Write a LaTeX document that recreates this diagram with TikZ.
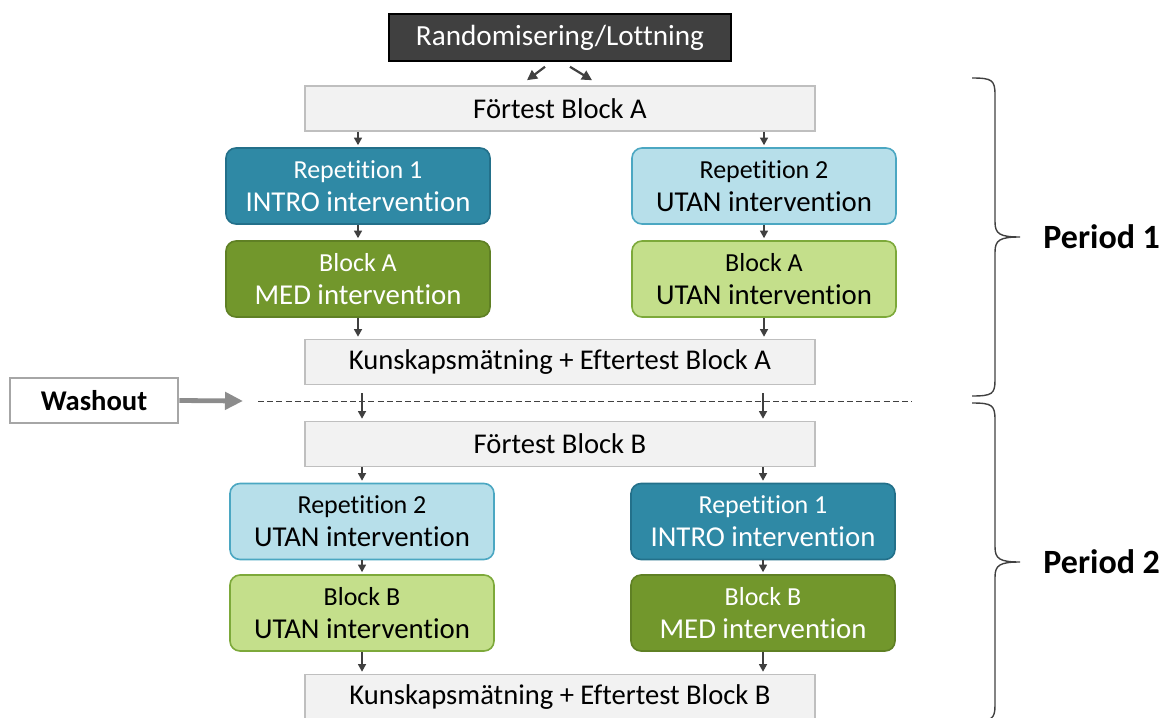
\documentclass[tikz,border=0pt]{standalone}
\usepackage{fontspec}
\setmainfont{Carlito}[Ligatures=NoCommon]
\usetikzlibrary{arrows.meta}

\definecolor{darkfill}{HTML}{404040}
\definecolor{greyfill}{HTML}{F2F2F2}
\definecolor{greyline}{HTML}{BFBFBF}
\definecolor{tealfill}{HTML}{2F89A5}
\definecolor{tealline}{HTML}{23708A}
\definecolor{skyfill}{HTML}{B7DFEA}
\definecolor{skyline}{HTML}{4BA7C2}
\definecolor{olivefill}{HTML}{72972C}
\definecolor{oliveline}{HTML}{5F8024}
\definecolor{limefill}{HTML}{C4DF8B}
\definecolor{limeline}{HTML}{7DA93A}
\definecolor{arrowgrey}{HTML}{404040}
\definecolor{washgrey}{HTML}{8C8C8C}
\definecolor{washline}{HTML}{A6A6A6}

\begin{document}
\begin{tikzpicture}[x=0.5pt,y=-0.5pt]
\tikzstyle{arrow}=[-{Triangle[length=3.8pt,width=4pt]}, line width=0.75pt, arrowgrey, shorten >=1pt]
\tikzstyle{splitarrow}=[-{Triangle[length=5pt,width=5pt]}, line width=1.1pt, arrowgrey]
\tikzstyle{washarrow}=[-{Triangle[length=9pt,width=8.5pt]}, line width=2.4pt, washgrey]
\tikzstyle{divider}=[arrowgrey, line width=0.5pt, dash pattern=on 3pt off 1.6pt]
\tikzstyle{periodbrace}=[arrowgrey, line width=0.7pt]
\tikzstyle{darkbox}=[draw=black, fill=darkfill, text=white, line width=0.8pt, minimum width=171pt, minimum height=23.5pt, inner sep=1pt, font=\fontsize{14.6}{16.5}\selectfont]
\tikzstyle{greybox}=[draw=greyline, fill=greyfill, line width=0.8pt, minimum width=255pt, minimum height=22.5pt, inner sep=1pt, font=\fontsize{14.3}{16.5}\selectfont]
\tikzstyle{colbox}=[rounded corners=5pt, line width=0.8pt, minimum width=132pt, minimum height=38pt, inner sep=1pt, align=center, font=\fontsize{14.4}{16.5}\selectfont]
\tikzstyle{tealbox}=[colbox, draw=tealline, fill=tealfill, text=white]
\tikzstyle{skybox}=[colbox, draw=skyline, fill=skyfill]
\tikzstyle{olivebox}=[colbox, draw=oliveline, fill=olivefill, text=white]
\tikzstyle{limebox}=[colbox, draw=limeline, fill=limefill]
\tikzstyle{washbox}=[draw=washline, fill=white, line width=1.3pt, minimum width=84pt, minimum height=22.5pt, inner sep=1pt, font=\bfseries\fontsize{14.3}{16.5}\selectfont]
\tikzstyle{periodlabel}=[anchor=west, inner sep=0pt, font=\bfseries\fontsize{17}{20}\selectfont]
\newcommand{\firstline}[1]{{\fontsize{13}{16.5}\selectfont #1}}

\useasboundingbox (0,0) rectangle (1165,717);

% period 1
\draw node[darkbox] (rand) at (560,37.5) {Randomisering/Lottning};
\draw node[greybox] (fA) at (560,108.5) {Förtest Block A};
\draw node[tealbox] (L1) at (358,186) {\firstline{Repetition 1}\\INTRO intervention};
\draw node[skybox] (R1) at (764,186) {\firstline{Repetition 2}\\UTAN intervention};
\draw node[olivebox] (L2) at (358,279) {\firstline{Block A}\\MED intervention};
\draw node[limebox] (R2) at (764,279) {\firstline{Block A}\\UTAN intervention};
\draw node[greybox] (kA) at (560,362) {Kunskapsmätning + Eftertest Block A};

% period 2
\draw node[greybox] (fB) at (560,444) {Förtest Block B};
\draw node[skybox] (L3) at (362,521.5) {\firstline{Repetition 2}\\UTAN intervention};
\draw node[tealbox] (R3) at (763,521.5) {\firstline{Repetition 1}\\INTRO intervention};
\draw node[limebox] (L4) at (362,613) {\firstline{Block B}\\UTAN intervention};
\draw node[olivebox] (R4) at (763,613) {\firstline{Block B}\\MED intervention};
\draw node[greybox] (kB) at (560,697) {Kunskapsmätning + Eftertest Block B};

\draw node[washbox] (wash) at (94,400.5) {Washout};
\coordinate (wend) at (243,401);
\coordinate (dl) at (258,401);
\coordinate (dr) at (912,401);

\draw[splitarrow] ([xshift=-7.5pt,yshift=-2.5pt]rand.south) -- ([xshift=-16.5pt,yshift=2.5pt]fA.north);
\draw[splitarrow] ([xshift=5pt,yshift=-2.5pt]rand.south) -- ([xshift=16pt,yshift=2.5pt]fA.north);

\draw[arrow] (fA.south -| L1.north) -- (L1.north);
\draw[arrow] (fA.south -| R1.north) -- (R1.north);
\draw[arrow] (L1) -- (L2);
\draw[arrow] (R1) -- (R2);
\draw[arrow] (L2.south) -- (kA.north -| L2.south);
\draw[arrow] (R2.south) -- (kA.north -| R2.south);

\draw[divider] (dl) -- (dr);
\draw[washarrow] (wash.east) -- (wend);
\draw[arrow, shorten <=4pt] (kA.south -| L3.north) -- (fB.north -| L3.north);
\draw[arrow, shorten <=4pt] (kA.south -| R3.north) -- (fB.north -| R3.north);

\draw[arrow] (fB.south -| L3.north) -- (L3.north);
\draw[arrow] (fB.south -| R3.north) -- (R3.north);
\draw[arrow] (L3) -- (L4);
\draw[arrow] (R3) -- (R4);
\draw[arrow] (L4.south) -- (kB.north -| L4.south);
\draw[arrow] (R4.south) -- (kB.north -| R4.south);

% braces
\draw[periodbrace] (972,78) .. controls (992,78) and (995,80) .. (995,95) -- (995,222)
  .. controls (995,234) and (1000,237) .. (1020,237)
  .. controls (1000,237) and (995,240) .. (995,252) -- (995,380)
  .. controls (995,394) and (992,396) .. (972,396);
\draw[periodbrace] (972,403) .. controls (992,403) and (995,405) .. (995,420) -- (995,547)
  .. controls (995,559) and (1000,562) .. (1020,562)
  .. controls (1000,562) and (995,565) .. (995,577) -- (995,705)
  .. controls (995,719) and (992,721) .. (972,721);
\draw node[periodlabel] (p1) at (1043,237) {Period 1};
\draw node[periodlabel] (p2) at (1043,562) {Period 2};

\end{tikzpicture}
\end{document}
